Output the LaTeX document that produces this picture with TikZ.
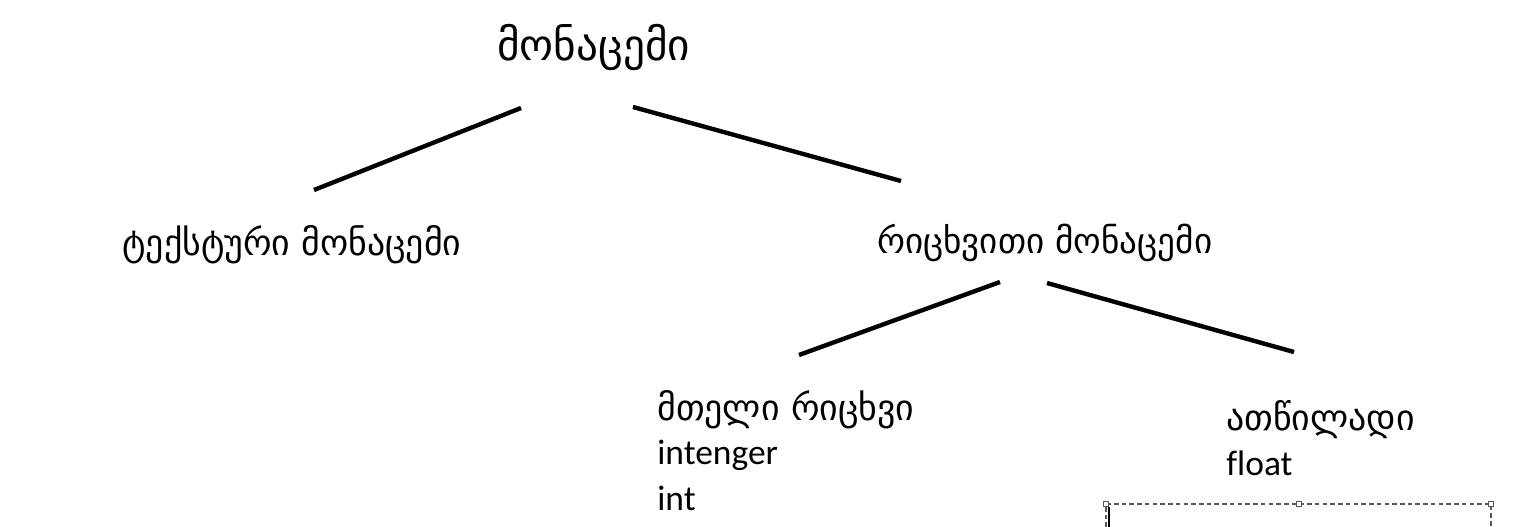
\documentclass[tikz,border=0pt]{standalone}
\usepackage{fontspec}
\newfontfamily\geo{DejaVu Sans}
\newfontfamily\lat[Ligatures=NoCommon]{Carlito}
\begin{document}
\begin{tikzpicture}[x=0.02cm,y=-0.02cm,
  lbl/.style={inner sep=0pt, anchor=west, font=\geo\fontsize{20.4}{24}\selectfont},
  latlbl/.style={inner sep=0pt, anchor=west, font=\lat\fontsize{20.2}{24}\selectfont},
  edge/.style={line width=2.5pt},
  handle/.style={draw=black!65, fill=white, line width=0.6pt, minimum size=3.2pt, inner sep=0pt}]
\useasboundingbox (0,0) rectangle (1515,527);
% texts
\node[lbl, font=\geo\fontsize{24.6}{28}\selectfont] (root) at (497,48) {მონაცემი};
\node[lbl] (text) at (122,245) {ტექსტური მონაცემი};
\node[lbl, font=\geo\fontsize{20}{24}\selectfont] (num) at (877,243) {რიცხვითი მონაცემი};
\node[lbl] (int1) at (657,410) {მთელი რიცხვი};
\node[latlbl] (int2) at (657,455) {intenger};
\node[latlbl] (int3) at (657,498) {int};
\node[lbl] (flt1) at (1226,420) {ათწილადი};
\node[latlbl] (flt2) at (1226,463) {float};
% line end points
\coordinate (a1) at (521,108); \coordinate (a2) at (314,190);
\coordinate (b1) at (633,107); \coordinate (b2) at (901,181);
\coordinate (c1) at (1000,282); \coordinate (c2) at (799,355);
\coordinate (d1) at (1047,283); \coordinate (d2) at (1294,352);
\draw[edge] (a1) -- (a2);
\draw[edge] (b1) -- (b2);
\draw[edge] (c1) -- (c2);
\draw[edge] (d1) -- (d2);
% selection frame
\coordinate (f1) at (1106,504); \coordinate (f2) at (1299,504); \coordinate (f3) at (1491,504);
\coordinate (f4) at (1106,527); \coordinate (f5) at (1491,527);
\draw[black!65, dash pattern=on 2.6pt off 1.8pt, line width=0.6pt] (f4) -- (f1) -- (f3) -- (f5);
\draw[line width=0.9pt] (1109,507) -- (1109,527);
\node[handle] (h1) at (f1) {};
\node[handle] (h2) at (f2) {};
\node[handle] (h3) at (f3) {};
\end{tikzpicture}
\end{document}
